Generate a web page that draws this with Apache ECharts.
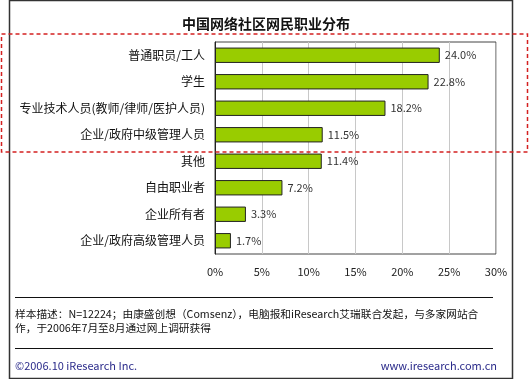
<!DOCTYPE html>
<html><head><meta charset="utf-8">
<script src="https://cdn.jsdelivr.net/npm/echarts@6/dist/echarts.min.js"></script>
<style>html,body{margin:0;padding:0;background:#fff}#c{width:529px;height:379px}</style>
</head><body><div id="c"></div>
<script>
const titleText = '中国网络社区网民职业分布';
const categories = ['普通职员/工人','学生','专业技术人员(教师/律师/医护人员)','企业/政府中级管理人员','其他','自由职业者','企业所有者','企业/政府高级管理人员'];
const values = [24.0, 22.8, 18.2, 11.5, 11.4, 7.2, 3.3, 1.7];
const axisMin = 0, axisMax = 30, axisStep = 5;
const noteLine1 = '样本描述：N=12224；由康盛创想（Comsenz），电脑报和iResearch艾瑞联合发起，与多家网站合';
const noteLine2 = '作，于2006年7月至8月通过网上调研获得';
const footLeft = '©2006.10 iResearch Inc.';
const footRight = 'www.iresearch.com.cn';

const cjk = '"Noto Sans CJK SC", "DejaVu Sans", sans-serif';
const chart = echarts.init(document.getElementById('c'));
chart.setOption({
  animation: false,
  backgroundColor: '#fff',
  title: {
    text: titleText, left: 261, top: 12, textAlign: 'center',
    textStyle: {fontFamily: cjk, fontSize: 14, fontWeight: 'bold', color: '#111'}
  },
  grid: {left: 215, right: 33, top: 42, bottom: 125, show: true, borderColor: '#444', borderWidth: 1, backgroundColor: 'transparent'},
  xAxis: {
    type: 'value', min: axisMin, max: axisMax, interval: axisStep,
    axisLabel: {formatter: '{value}%', color: '#222', fontSize: 11, margin: 12, fontFamily: cjk},
    axisLine: {show: false}, axisTick: {show: false},
    splitLine: {lineStyle: {color: '#c8c8c8', width: 1}}
  },
  yAxis: {
    type: 'category', data: categories, inverse: true,
    axisLine: {lineStyle: {color: '#222'}}, axisTick: {show: false},
    axisLabel: {color: '#111', fontSize: 12, margin: 10, fontFamily: cjk}
  },
  series: [{
    type: 'bar', data: values, barCategoryGap: '42%',
    itemStyle: {color: '#99cc00', borderColor: '#222', borderWidth: 1},
    label: {show: true, position: 'right', distance: 5, color: '#333', fontSize: 11, fontFamily: cjk,
      formatter: p => p.value.toFixed(1) + '%'}
  }],
  graphic: [
    {type: 'rect', shape: {x: 9.5, y: 0.5, width: 503, height: 378}, style: {fill: 'none', stroke: '#333', lineWidth: 1.5}, silent: true},
    {type: 'rect', shape: {x: 1.5, y: 34, width: 526, height: 118}, style: {fill: 'none', stroke: '#d42020', lineWidth: 1.5, lineDash: [4, 3]}, silent: true, z: 10},
    {type: 'line', shape: {x1: 15, y1: 297.5, x2: 493, y2: 297.5}, style: {stroke: '#111', lineWidth: 1}},
    {type: 'line', shape: {x1: 15, y1: 348.5, x2: 493, y2: 348.5}, style: {stroke: '#111', lineWidth: 1}},
    {type: 'text', left: 15, top: 309, style: {text: noteLine1, fill: '#111', fontSize: 10.7, fontFamily: cjk}},
    {type: 'text', left: 15, top: 323, style: {text: noteLine2, fill: '#111', fontSize: 10.7, fontFamily: cjk}},
    {type: 'text', left: 15, top: 360, style: {text: footLeft, fill: '#2a2a8a', fontSize: 11, fontFamily: cjk}},
    {type: 'text', right: 32, top: 360, style: {text: footRight, fill: '#2a2a8a', fontSize: 11, fontFamily: cjk}}
  ]
});
</script></body></html>
